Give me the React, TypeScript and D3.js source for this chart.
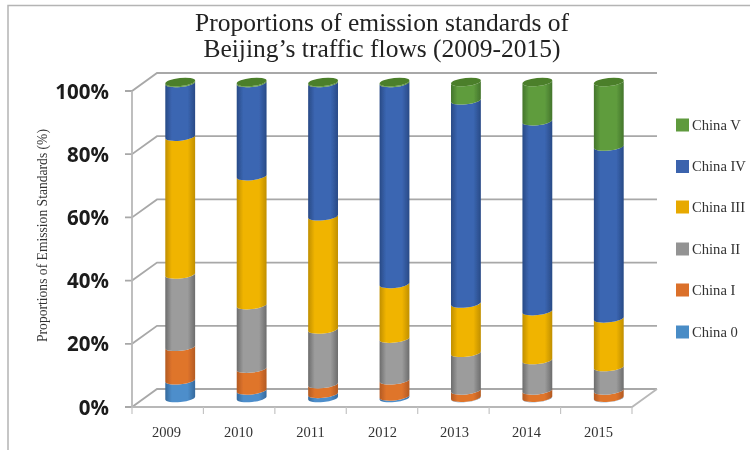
import React from "react";
import * as d3 from "d3";

const years = ["2009", "2010", "2011", "2012", "2013", "2014", "2015"];
const china0 = [5.6, 2.4, 1.3, 0.5, 0.1, 0.1, 0.1];
const china1 = [10.6, 6.9, 3.1, 5.1, 2.3, 2.3, 2.3];
const china2 = [22.9, 20.1, 17.3, 13.2, 11.9, 9.6, 7.4];
const china3 = [43.6, 40.8, 35.8, 17.3, 15.6, 15.5, 15.4];
const china4 = [17.0, 29.5, 42.2, 63.6, 64.3, 60.1, 54.4];
const china5 = [0.3, 0.3, 0.3, 0.3, 5.8, 12.4, 20.4];
const seriesNames = ["China 0", "China I", "China II", "China III", "China IV", "China V"];
const seriesValues = [china0, china1, china2, china3, china4, china5];
const baseColors = ["#4d8ecb", "#df742c", "#9c9c9c", "#f0b400", "#3b66b2", "#5f9c3e"];
const edgeColors = ["#35699c", "#b35a22", "#6c6c6c", "#c08f00", "#294a86", "#44752c"];
const legendColors = ["#4a8cc6", "#db6f2b", "#939393", "#e7a900", "#3a63ad", "#5e9a3e"];
const yTicks = [0, 20, 40, 60, 80, 100];
const titleLines = ["Proportions of emission standards of", "Beijing\u2019s traffic flows (2009-2015)"];
const legendY = [332, 290, 249, 207, 166.5, 125];

const W = 750, H = 450;
const DX = 25, DY = -18;
const y = d3.scaleLinear().domain([0, 100]).range([407, 91]);
const x = d3.scaleBand<string>().domain(years).range([132, 632]);
const xLabel = d3.scaleBand<string>().domain(years).range([130.5, 634.5]);
const rows = years.map((yr, i) => {
  const r: Record<string, number | string> = { year: yr };
  seriesNames.forEach((n, k) => (r[n] = seriesValues[k][i]));
  return r;
});
const stacked = d3.stack<any>().keys(seriesNames)(rows);

const RX = 15, RY = 4, ROT = -6;
const ax = RX * Math.cos((ROT * Math.PI) / 180);
const ay = RX * Math.sin((ROT * Math.PI) / 180);
const GRID = "#a8a8a8";

function segPath(cx: number, y0: number, y1: number) {
  const lx = cx - ax, rx = cx + ax;
  return (
    `M${lx},${y1 - ay}A${RX},${RY} ${ROT} 0 0 ${rx},${y1 + ay}` +
    `L${rx},${y0 + ay}A${RX},${RY} ${ROT} 0 1 ${lx},${y0 - ay}Z`
  );
}

export default function App() {
  return (
    <svg
      width={W}
      height={H}
      viewBox={`0 0 ${W} ${H}`}
      style={{ position: "absolute", left: 0, top: 0, background: "#fff" }}
    >
      <defs>
        {seriesNames.map((_, k) => (
          <linearGradient key={k} id={`g${k}`} x1="0" x2="1" y1="0" y2="0">
            <stop offset="0" stopColor={edgeColors[k]} />
            <stop offset="0.22" stopColor={baseColors[k]} />
            <stop offset="0.75" stopColor={baseColors[k]} />
            <stop offset="1" stopColor={edgeColors[k]} />
          </linearGradient>
        ))}
        <filter id="soft" x="-5%" y="-5%" width="110%" height="110%">
          <feGaussianBlur stdDeviation="0.35" />
        </filter>
      </defs>
      <g filter="url(#soft)">
        <path d="M8,450V5.5H750" fill="none" stroke="#b4b4b4" strokeWidth={1.5} />
        {yTicks.map((t) => (
          <g key={t} stroke={GRID} fill="none" strokeWidth={1.8}>
            <path d={`M${x.range()[0] - 7},${y(t)}H${x.range()[0]}l${DX},${DY}H${x.range()[1] + DX}`} />
          </g>
        ))}
        <path
          d={`M${x.range()[0]},${y(100)}V${y(0)}H${x.range()[1]}l${DX},${DY}`}
          fill="none"
          stroke="#b8b8b8"
          strokeWidth={1.8}
        />
        {[...years.map((yr) => x(yr)!), x.range()[1]].map((tx, i) => (
          <line key={i} x1={tx} x2={tx} y1={y(0)} y2={y(0) + 7} stroke="#c4c4c4" strokeWidth={1.2} />
        ))}
        {stacked.map((s, k) => (
          <g key={s.key}>
            {s.map((d, i) => {
              const cx = x(years[i])! + x.bandwidth() / 2 + DX / 2;
              return (
                <path
                  key={i}
                  d={segPath(cx, y(d[0]) + DY / 2, y(d[1]) + DY / 2)}
                  fill={`url(#g${k})`}
                />
              );
            })}
          </g>
        ))}
        {years.map((yr) => (
          <ellipse
            key={yr}
            cx={x(yr)! + x.bandwidth() / 2 + DX / 2}
            cy={y(100) + DY / 2}
            rx={RX}
            ry={RY}
            transform={`rotate(${ROT} ${x(yr)! + x.bandwidth() / 2 + DX / 2} ${y(100) + DY / 2})`}
            fill="#4c7f2c"
          />
        ))}
        {titleLines.map((t, i) => (
          <text
            key={i}
            x={382}
            y={31 + i * 25.5}
            textAnchor="middle"
            fontFamily="'Liberation Serif', serif"
            fontSize={25.5}
            fill="#222"
          >
            {t}
          </text>
        ))}
        {yTicks.map((t) => (
          <text
            key={t}
            x={109}
            y={y(t) + 7.5}
            textAnchor="end"
            fontFamily="'Open Sans', sans-serif"
            fontWeight={700}
            fontSize={20.5}
            fill="#1a1a1a"
          >
            {t}%
          </text>
        ))}
        <text
          transform="translate(42,235.5) rotate(-90)"
          textAnchor="middle"
          dominantBaseline="central"
          fontFamily="'Liberation Serif', serif"
          fontSize={13.6}
          fill="#333"
        >
          Proportions of Emission Standards (%)
        </text>
        {years.map((yr) => (
          <text
            key={yr}
            x={xLabel(yr)! + xLabel.bandwidth() / 2}
            y={437}
            textAnchor="middle"
            fontFamily="'Liberation Serif', serif"
            fontSize={14.5}
            fill="#333"
          >
            {yr}
          </text>
        ))}
        {seriesNames.map((n, k) => (
          <g key={n}>
            <rect x={676} y={legendY[k] - 6.5} width={13} height={13} fill={legendColors[k]} />
            <text
              x={692}
              y={legendY[k] + 4.5}
              fontFamily="'Liberation Serif', serif"
              fontSize={14.6}
              fill="#333"
            >
              {n}
            </text>
          </g>
        ))}
      </g>
    </svg>
  );
}
